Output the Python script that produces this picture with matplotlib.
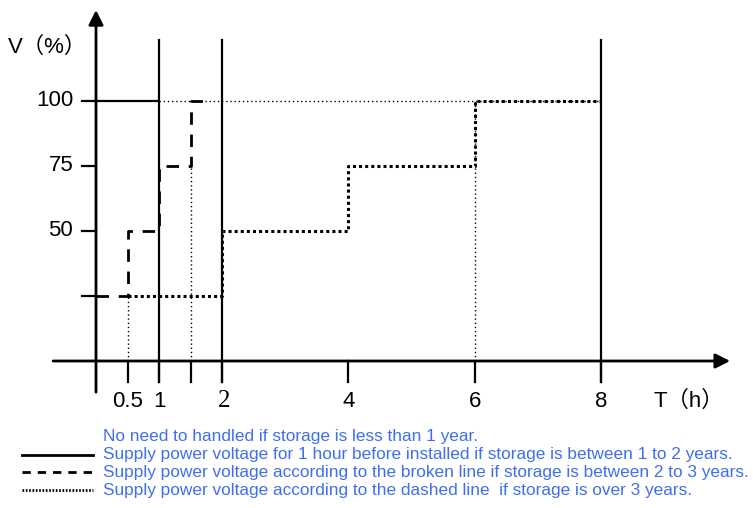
import matplotlib
matplotlib.use("Agg")
import matplotlib.pyplot as plt
from matplotlib.lines import Line2D

plt.rcParams["font.family"] = ["Liberation Sans", "Noto Sans CJK SC", "DejaVu Sans"]

# chart data
t_ticks = [0.5, 1, 1.5, 2, 4, 6, 8]
t_labels = ["0.5", "1", "", "2", "4", "6", "8"]
v_ticks = [25, 50, 75, 100]
v_labels = ["", "50", "75", "100"]
frame_t = [1, 2, 8]  # solid vertical guide lines

solid_t = [0, 1]
solid_v = [100, 100]

broken_t = [0, 0.5, 1, 1.5, 1.75]
broken_v = [25, 50, 75, 100, 100]

dotted_t = [0.5, 2, 4, 6, 8]
dotted_v = [25, 50, 75, 100, 100]

fine_level_t = [1, 8]
fine_level_v = [100, 100]
fine_drop_t = [0.5, 1.5, 6]
fine_drop_v = [25, 75, 100]

legend_texts = [
    "No need to handled if storage is less than 1 year.",
    "Supply power voltage for 1 hour before installed if storage is between 1 to 2 years.",
    "Supply power voltage according to the broken line if storage is between 2 to 3 years.",
    "Supply power voltage according to the dashed line  if storage is over 3 years.",
]

W, H = 753, 508
fig = plt.figure(figsize=(W / 100, H / 100), dpi=100)
ax = fig.add_axes([0, 0, 1, 1])
px_per_t = 63.1
px_per_v = 2.6
x0_px, y0_px = 96, 361
ax.set_xlim(-x0_px / px_per_t, (W - x0_px) / px_per_t)
ax.set_ylim((y0_px - H) / px_per_v, y0_px / px_per_v)
ax.axis("off")

# axes with arrows
ax.annotate("", xy=(10.05, 0), xytext=(-0.68, 0),
            arrowprops=dict(arrowstyle="-|>", lw=2, color="black", mutation_scale=22,
                            shrinkA=0, shrinkB=0))
ax.annotate("", xy=(0, 135), xytext=(0, -12),
            arrowprops=dict(arrowstyle="-|>", lw=2, color="black", mutation_scale=22,
                            shrinkA=0, shrinkB=0))

# guide lines
for t in frame_t:
    ax.plot([t, t], [-8, 123.5], color="black", lw=1.6)
for t in t_ticks:
    ax.plot([t, t], [0, -8], color="black", lw=1.6)
for v in v_ticks:
    ax.plot([-0.22, 0], [v, v], color="black", lw=1.6)

# series
ax.plot(solid_t, solid_v, color="black", lw=1.6, solid_capstyle="butt")
ax.plot(broken_t, broken_v, color="black", lw=2, drawstyle="steps-post",
        dashes=(4.5, 3.5))
ax.plot(dotted_t, dotted_v, color="black", lw=2.2, drawstyle="steps-post",
        dashes=(1, 1))
ax.plot(fine_level_t, fine_level_v, color="black", lw=1, dashes=(1, 2))
for t, v in zip(fine_drop_t, fine_drop_v):
    ax.plot([t, t], [0, v], color="black", lw=1, dashes=(1, 2))

# tick labels
for t, lab in zip(t_ticks, t_labels):
    if lab == "2":
        ax.text(t + 0.03, -15.5, lab, ha="center", va="center", fontsize=18,
                family="Liberation Serif")
    else:
        ax.text(t, -15.5, lab, ha="center", va="center", fontsize=16)
for v, lab in zip(v_ticks, v_labels):
    ax.text(-0.36, v, lab, ha="right", va="center", fontsize=16)

ax.text(-1.4, 120.5, "V（%）", ha="left", va="center", fontsize=16)
ax.text(8.83, -15.5, "T（h）", ha="left", va="center", fontsize=16)

# legend
blue = "#3f6ef4"
rows_px = [437, 455, 472, 490]
for y, txt in zip(rows_px, legend_texts):
    fig.text(103 / W, 1 - y / H, txt, ha="left", va="center", fontsize=12.4,
             color=blue)
styles = [dict(lw=2), dict(lw=2, dashes=(3, 2.5)), dict(lw=2, dashes=(0.6, 0.6))]
for y, st in zip(rows_px[1:], styles):
    fig.add_artist(Line2D([22 / W, 93 / W], [1 - y / H, 1 - y / H],
                          transform=fig.transFigure, color="black", **st))

fig.savefig("out.png", dpi=100)
